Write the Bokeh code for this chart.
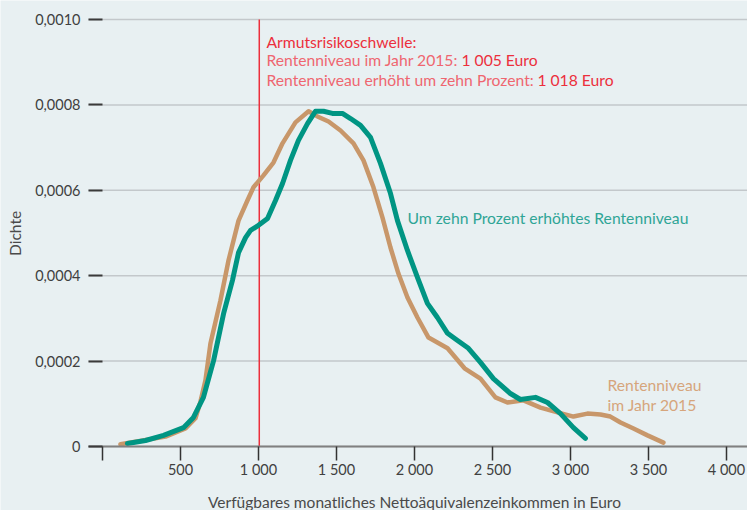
import math
from bokeh.plotting import figure
from bokeh.models import Range1d, FixedTicker, CustomJSTickFormatter, Label
from bokeh.embed import file_html
from bokeh.resources import INLINE

# ---- data ----
erhoeht_x = [160, 276, 391, 519, 583, 647, 712, 776, 833, 872, 917, 949, 1000, 1058, 1109,
             1154, 1205, 1256, 1314, 1365, 1417, 1474, 1538, 1590, 1654, 1718, 1782, 1846,
             1891, 1955, 2019, 2083, 2147, 2212, 2276, 2346, 2423, 2506, 2615, 2679, 2776,
             2853, 2936, 3019, 3096]
erhoeht_y = [0.000007, 0.000014, 0.000026, 0.000044, 0.000068, 0.000115, 0.000201, 0.000311,
             0.000389, 0.000454, 0.000489, 0.000506, 0.000518, 0.000534, 0.000576, 0.000616,
             0.000670, 0.000717, 0.000756, 0.000785, 0.000785, 0.000780, 0.000780, 0.000768,
             0.000752, 0.000724, 0.000663, 0.000593, 0.000529, 0.000459, 0.000396, 0.000335,
             0.000302, 0.000265, 0.000248, 0.000230, 0.000197, 0.000159, 0.000124, 0.000110,
             0.000115, 0.000103, 0.000077, 0.000044, 0.000019]

jahr2015_x = [115, 404, 532, 596, 628, 660, 692, 756, 808, 872, 929, 968, 1032, 1096, 1154,
              1237, 1321, 1378, 1449, 1526, 1609, 1673, 1737, 1795, 1846, 1897, 1955, 2019,
              2090, 2212, 2321, 2423, 2519, 2596, 2699, 2808, 2917, 3019, 3109, 3192, 3256,
              3321, 3404, 3494, 3596]
jahr2015_y = [0.000005, 0.000023, 0.000042, 0.000066, 0.000105, 0.000155, 0.000241, 0.000342,
              0.000436, 0.000529, 0.000576, 0.000607, 0.000635, 0.000665, 0.000710, 0.000759,
              0.000785, 0.000773, 0.000761, 0.000740, 0.000710, 0.000670, 0.000607, 0.000536,
              0.000466, 0.000405, 0.000349, 0.000302, 0.000255, 0.000230, 0.000183, 0.000159,
              0.000115, 0.000103, 0.000108, 0.000091, 0.000080, 0.000070, 0.000077, 0.000075,
              0.000070, 0.000056, 0.000042, 0.000026, 0.000009]

schwelle = 1005
x_ticks = [0, 500, 1000, 1500, 2000, 2500, 3000, 3500, 4000]
y_ticks = [0, 0.0002, 0.0004, 0.0006, 0.0008, 0.0010]

# ---- styles ----
BG = "#e8f0f2"
TEAL = "#009583"
TAN = "#c8976a"
RED = "#ec2f3c"
RED_LIGHT = "#ef6670"
FONT = "Lato"

X0, X1 = -654, 4135          # visible x extent (whole canvas is the frame)
Y0, Y1 = -0.00015, 0.0010445
AXIS_X = -90                 # where the y axis (tick marks) sits

p = figure(width=747, height=510, output_backend="svg", toolbar_location=None,
           x_range=Range1d(X0, X1), y_range=Range1d(Y0, Y1),
           min_border_left=0, min_border_right=0, min_border_top=0, min_border_bottom=0)
p.background_fill_color = BG
p.border_fill_color = BG
p.outline_line_color = None
p.xgrid.visible = False
p.ygrid.visible = False

# horizontal grid lines, starting at the y axis
p.segment(x0=[AXIS_X] * len(y_ticks), y0=y_ticks, x1=[X1] * len(y_ticks), y1=y_ticks,
          line_color="#c3c8cb", line_width=1.5, level="underlay")

p.yaxis.fixed_location = AXIS_X
p.yaxis.ticker = FixedTicker(ticks=y_ticks)
p.yaxis.formatter = CustomJSTickFormatter(code="""
    if (tick == 0) return "0";
    return tick.toFixed(4).replace(".", ",");
""")
p.yaxis.axis_line_color = None
p.yaxis.major_tick_in = 14
p.yaxis.major_tick_out = 0
p.yaxis.major_tick_line_color = "#3a3a3a"
p.yaxis.major_tick_line_width = 2
p.yaxis.minor_tick_line_color = None
p.yaxis.major_label_standoff = 8

p.xaxis.fixed_location = 0
p.xaxis.bounds = (AXIS_X, X1)
p.xaxis.ticker = FixedTicker(ticks=x_ticks)
p.xaxis.formatter = CustomJSTickFormatter(code="""
    if (tick == 0) return "";
    var s = tick.toFixed(0);
    return s.length > 3 ? s.slice(0, -3) + " " + s.slice(-3) : s;
""")
p.xaxis.axis_line_color = "#808080"
p.xaxis.axis_line_width = 2
p.xaxis.major_tick_in = 0
p.xaxis.major_tick_out = 14
p.xaxis.major_tick_line_color = "#333333"
p.xaxis.major_tick_line_width = 1.5
p.xaxis.minor_tick_line_color = None
p.xaxis.major_label_standoff = 1

for ax in (p.xaxis, p.yaxis):
    ax.major_label_text_font = FONT
    ax.major_label_text_font_size = "14.5px"
    ax.major_label_text_color = "#404040"

# threshold line
p.segment(x0=[schwelle], y0=[0], x1=[schwelle], y1=[y_ticks[-1]], line_color=RED, line_width=1.5)

p.line(jahr2015_x, jahr2015_y, line_color=TAN, line_width=4.5, line_cap="round", line_join="round")
p.line(erhoeht_x, erhoeht_y, line_color=TEAL, line_width=5, line_cap="round", line_join="round")

def lab(x, y, text, color, size="15.7px", align="left", angle=0.0):
    p.add_layout(Label(x=x, y=y, text=text, text_color=color, text_font=FONT,
                       text_font_size=size, text_baseline="middle", text_align=align,
                       angle=angle))

# axis titles
lab(2000, -0.000129, "Verfügbares monatliches Nettoäquivalenzeinkommen in Euro", "#4a4a4a",
    size="15.5px", align="center")
lab(-558, 0.000499, "Dichte", "#4a4a4a", size="15.5px", align="center", angle=math.pi / 2)

lab(1051, 0.000948, "Armutsrisikoschwelle:", RED)
lab(1051, 0.000904, "Rentenniveau im Jahr 2015:", RED_LIGHT)
lab(2301, 0.000904, "1 005 Euro", RED)
lab(1051, 0.000859, "Rentenniveau erhöht um zehn Prozent:", RED_LIGHT)
lab(2788, 0.000859, "1 018 Euro", RED)
lab(1955, 0.000534, "Um zehn Prozent erhöhtes Rentenniveau", "#2fa596")
lab(3237, 0.000145, "Rentenniveau", "#d6a57c")
lab(3237, 0.000098, "im Jahr 2015", "#d6a57c")

open("out.html", "w").write(file_html(p, INLINE))
